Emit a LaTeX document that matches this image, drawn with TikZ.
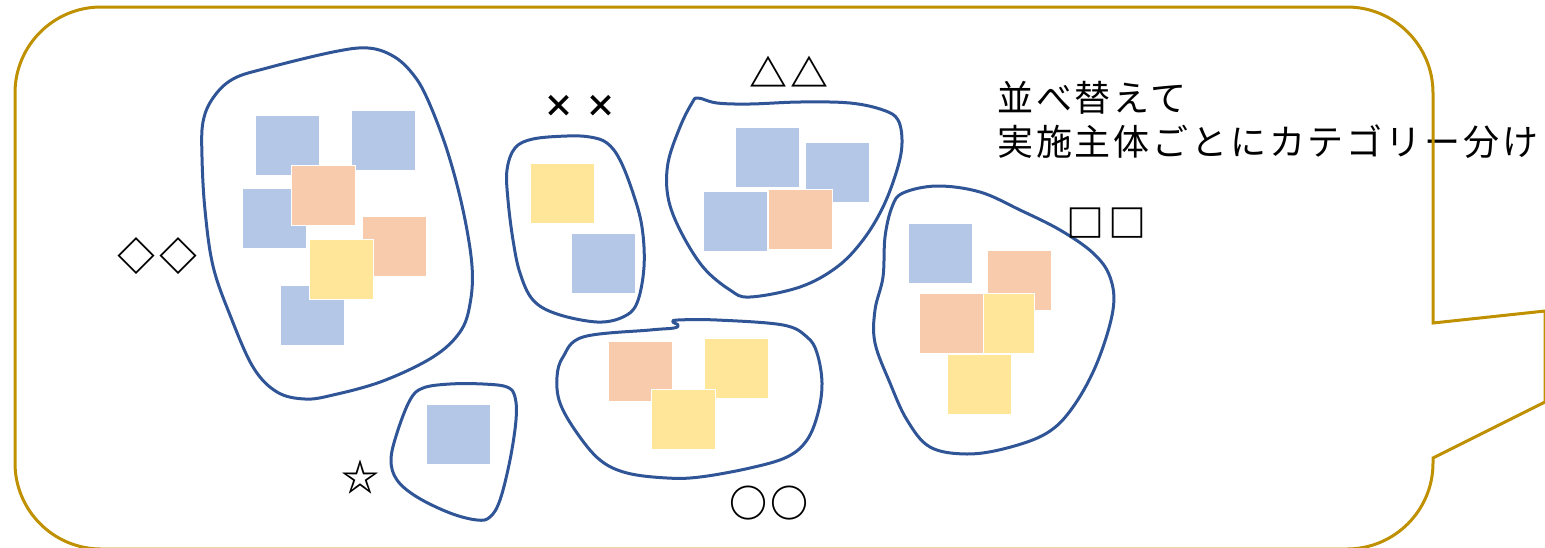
\documentclass[tikz,border=0pt]{standalone}
\usepackage{fontspec}
\newfontfamily\jpsym{Noto Sans CJK JP}
\newfontfamily\jpls[LetterSpace=7.9]{Noto Sans CJK JP}
\definecolor{gold}{HTML}{BF9000}
\definecolor{navy}{HTML}{2F5597}
\definecolor{nblue}{HTML}{B4C7E7}
\definecolor{norange}{HTML}{F8CBAD}
\definecolor{nyellow}{HTML}{FFE699}
\tikzset{
  note/.style={draw=white, line width=0.8pt, minimum width=64pt, minimum height=60pt,
               inner sep=0pt, outer sep=0pt, anchor=north west},
  bnote/.style={note, fill=nblue},
  onote/.style={note, fill=norange},
  ynote/.style={note, fill=nyellow},
  grp/.style={draw=navy, line width=3pt, line join=round},
  callout/.style={draw=gold, line width=3pt, line join=miter},
  sym/.style={font=\jpsym\bfseries\fontsize{38}{38}\selectfont, inner sep=0pt, anchor=center},
  lbl/.style={font=\jpls\fontsize{36}{45}\selectfont, inner sep=0pt, anchor=base west},
}
\begin{document}
\begin{tikzpicture}[x=1pt, y=-1pt]
\useasboundingbox (0,0) rectangle (1545,547);
\clip (0,0) rectangle (1545,547);

% group outlines
\draw[grp] plot[smooth cycle, tension=0.6] coordinates {
 (368,48) (333,52) (267,68) (233,79) (213,98) (203,122) (202,157) (205,210)
 (213,266) (230,315) (253,367) (277,392) (305,399) (333,395) (383,381) (433,357)
 (460,332) (470,304) (472,266) (463,210) (447,150) (427,98) (412,73) (393,56)};
\draw[grp] plot[smooth cycle, tension=0.6] coordinates {
 (567,136) (533,139) (515,148) (507,170) (508,200) (513,240) (520,273) (533,300)
 (557,314) (597,322) (623,317) (637,303) (644,267) (642,227) (633,193) (620,160)
 (607,143) (590,137)};
\draw[grp] plot[smooth cycle, tension=0.6] coordinates {
 (698,98) (717,103) (750,104) (800,102) (850,103) (883,110) (898,120) (902,143)
 (897,170) (883,207) (863,240) (837,267) (800,287) (750,297) (730,290) (703,267)
 (680,230) (668,197) (668,163) (680,127) (692,103)};
\draw[grp] plot[smooth cycle, tension=0.6] coordinates {
 (937,186) (980,192) (1020,210) (1060,230) (1093,253) (1110,277) (1113,310)
 (1097,363) (1073,407) (1047,433) (1007,448) (967,454) (930,447) (907,420)
 (890,383) (875,343) (875,310) (883,277) (885,237) (892,207) (903,193)};
\draw[grp] plot[smooth cycle, tension=0.6] coordinates {
 (583,337) (650,330) (674,328) (678,325) (673,322) (678,320) (717,320) (783,325)
 (807,337) (817,353) (822,383) (818,413) (807,440) (787,457) (750,468) (700,477)
 (667,478) (627,473) (600,460) (577,433) (560,403) (557,377) (563,357)};
\draw[grp] plot[smooth cycle, tension=0.6] coordinates {
 (450,384) (483,384) (507,387) (515,397) (516,420) (510,460) (500,500) (490,517)
 (477,520) (450,513) (417,497) (397,480) (391,460) (397,433) (410,400) (423,388)};

% sticky notes
\node[bnote] (a1) at (255,115) {};
\node[bnote] (a2) at (351,110) {};
\node[bnote] (a3) at (242,188) {};
\node[onote] (a4) at (291,165) {};
\node[onote] (a5) at (362,216) {};
\node[bnote] (a6) at (280,285) {};
\node[ynote] (a7) at (309,239) {};

\node[ynote] (b1) at (530,163) {};
\node[bnote] (b2) at (571,233) {};

\node[bnote] (c1) at (735,127) {};
\node[bnote] (c2) at (805,142) {};
\node[bnote] (c3) at (703,191) {};
\node[onote] (c4) at (768,189) {};

\node[bnote] (d1) at (908,223) {};
\node[onote] (d2) at (987,250) {};
\node[ynote] (d3) at (970,293) {};
\node[onote] (d4) at (919,293) {};
\node[ynote] (d5) at (947,354) {};

\node[onote] (e1) at (608,341) {};
\node[ynote] (e2) at (704,338) {};
\node[ynote] (e3) at (651,389) {};

\node[bnote] (f1) at (426,404) {};

% labels
\node[sym] (s1) at (157.5,256) {\makebox[43pt]{◇}\makebox[43pt]{◇}};
\node[sym, font=\jpsym\bfseries\fontsize{31}{31}\selectfont] (s2) at (580,106) {\makebox[42pt]{×}\makebox[42pt]{×}};
\node[sym] (s3) at (789,72) {\makebox[41pt]{△}\makebox[41pt]{△}};
\node[sym] (s4) at (769,503) {\makebox[42pt]{○}\makebox[42pt]{○}};
\node[sym] (s5) at (1106,223) {\makebox[42pt]{□}\makebox[42pt]{□}};
\node[sym] (s6) at (360,477) {☆};

\node[lbl] (t1) at (997,111) {並べ替えて};
\node[lbl] (t2) at (997,155) {実施主体ごとにカテゴリー分け};

% callout
\draw[callout] (101,7) -- (1347,7) arc[start angle=270, end angle=360, radius=86]
  -- (1433,323) -- (1545,311) -- (1545,402) -- (1433,458) -- (1433,463)
  arc[start angle=0, end angle=90, radius=86] -- (101,549)
  arc[start angle=90, end angle=180, radius=86] -- (15,93)
  arc[start angle=180, end angle=270, radius=86] -- cycle;
\end{tikzpicture}
\end{document}
